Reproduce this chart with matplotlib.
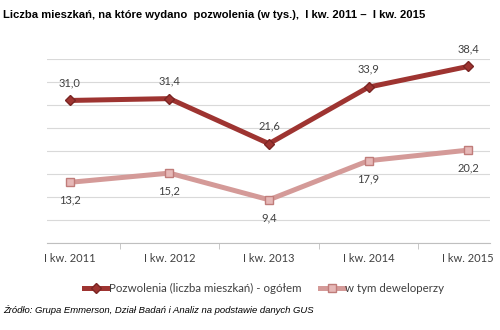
import matplotlib
matplotlib.use("Agg")
import matplotlib.pyplot as plt
from matplotlib.lines import Line2D

categories = ["I kw. 2011", "I kw. 2012", "I kw. 2013", "I kw. 2014", "I kw. 2015"]
ogolem = [31.0, 31.4, 21.6, 33.9, 38.4]
deweloperzy = [13.2, 15.2, 9.4, 17.9, 20.2]
series_names = ["Pozwolenia (liczba mieszkań) - ogółem", "w tym deweloperzy"]

dark = "#9e3431"
light = "#d49a98"
txt = "#404040"

fig = plt.figure(figsize=(5, 3.3), dpi=100)
ax = fig.add_axes([0.094, 0.2636, 0.886, 0.5574])

x = list(range(len(categories)))
ax.plot(x, ogolem, color=dark, lw=3.6, marker="D", ms=5,
        mfc=dark, mec="#7a2523", solid_joinstyle="miter", zorder=3)
ax.plot(x, deweloperzy, color=light, lw=3.6, marker="s", ms=6,
        mfc="#e6b8b7", mec="#c07c7a", zorder=3)

for xi, v in zip(x, ogolem):
    ax.annotate(f"{v:.1f}".replace(".", ","), (xi, v), xytext=(0, 9),
                textcoords="offset points", ha="center", va="bottom",
                fontsize=8, color=txt, family="Lato")
for xi, v in zip(x, deweloperzy):
    ax.annotate(f"{v:.1f}".replace(".", ","), (xi, v), xytext=(0, -9),
                textcoords="offset points", ha="center", va="top",
                fontsize=8, color=txt, family="Lato")

ax.set_ylim(0, 40)
ax.set_xlim(-0.23, 4.22)
ax.set_yticks(range(0, 41, 5))
ax.yaxis.grid(True, color="#d9d9d9", lw=0.8)
ax.set_axisbelow(True)
ax.tick_params(axis="y", length=0, labelleft=False)
ax.set_xticks(x)
ax.set_xticklabels(categories, fontsize=8, color=txt, family="Lato")
ax.tick_params(axis="x", length=0, pad=7)
ax.set_xticks([0.5, 1.5, 2.5, 3.5], minor=True)
ax.tick_params(axis="x", which="minor", length=4, color="#bfbfbf")
for s in ["top", "right", "left"]:
    ax.spines[s].set_visible(False)
ax.spines["bottom"].set_color("#bfbfbf")

fig.text(0.006, 0.97, "Liczba mieszkań, na które wydano  pozwolenia (w tys.),  I kw. 2011 –  I kw. 2015",
         fontsize=8.1, fontweight="bold", family="Liberation Sans", va="top", ha="left")

handles = [
    Line2D([], [], color=dark, lw=3.6, marker="D", ms=5, mfc=dark, mec="#7a2523"),
    Line2D([], [], color=light, lw=3.6, marker="s", ms=6, mfc="#e6b8b7", mec="#c07c7a"),
]
fig.legend(handles, series_names, loc="center", bbox_to_anchor=(0.528, 0.127), ncol=2,
           frameon=False, handlelength=2.1, handletextpad=0.1, columnspacing=1.6,
           prop={"family": "Lato", "size": 8.3}, labelcolor=txt)

fig.text(0.006, 0.06, "Źródło: Grupa Emmerson, Dział Badań i Analiz na podstawie danych GUS",
         fontsize=6.8, style="italic", family="Liberation Sans", va="center", ha="left")

fig.savefig("out.png", dpi=100)
